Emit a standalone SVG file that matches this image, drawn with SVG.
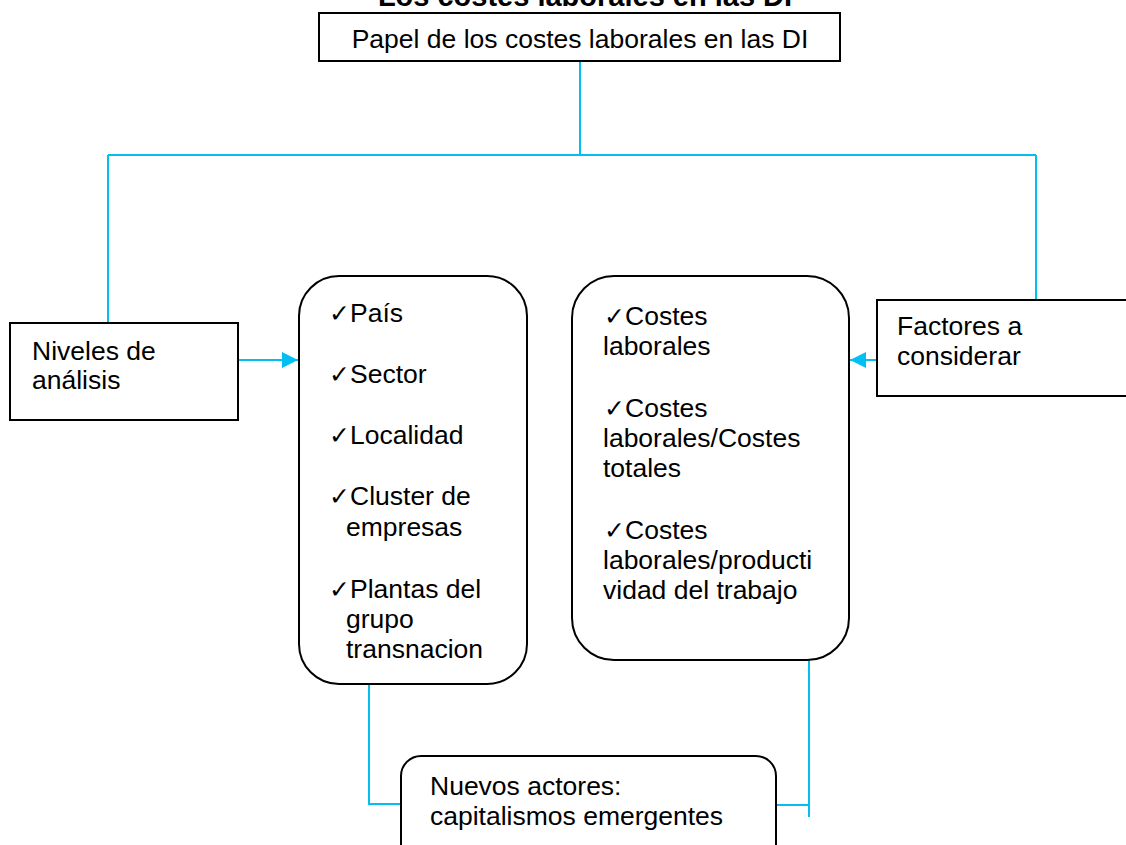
<svg xmlns="http://www.w3.org/2000/svg" width="1126" height="845" viewBox="0 0 1126 845">
<style>
.t{font-family:"Liberation Sans",Arial,"DejaVu Sans",sans-serif;font-size:26.5px;fill:#000}
.ck{font-family:"DejaVu Sans",sans-serif;font-size:25px}
.title{font-family:"Liberation Sans",Arial,sans-serif;font-size:29px;font-weight:bold;fill:#000}
.box{fill:#fff;stroke:#000;stroke-width:2}
.c{fill:none;stroke:#00C0F2;stroke-width:2}
</style>
<defs>
<marker id="ah" viewBox="0 0 10 10" refX="10" refY="5" markerWidth="8" markerHeight="8" orient="auto" markerUnits="strokeWidth">
<path d="M0,0 L10,5 L0,10 z" fill="#00C0F2"/>
</marker>
</defs>
<rect width="1126" height="845" fill="#fff"/>
<g id="connectors">
<path class="c" d="M580,61 V155 M108,155 H1036 M108,155 V323 M1036,155 V300"/>
<path class="c" d="M238,360 H298" marker-end="url(#ah)"/>
<path class="c" d="M877,360 H850" marker-end="url(#ah)"/>
<path class="c" d="M369,684 V804 H401"/>
<path class="c" d="M809,660 V817 M776,805 H809"/>
</g>
<g id="title">
<text class="title" x="585" y="6" text-anchor="middle">Los costes laborales en las DI</text>
</g>
<g id="papel">
<rect class="box" x="319" y="13" width="521" height="48"/>
<text class="t" x="580" y="48" text-anchor="middle">Papel de los costes laborales en las DI</text>
</g>
<g id="niveles">
<rect class="box" x="10" y="323" width="228" height="97"/>
<text class="t" x="32" y="360">Niveles de</text>
<text class="t" x="32" y="389">análisis</text>
</g>
<g id="lista-niveles">
<rect class="box" x="299" y="276" width="228" height="408" rx="40" ry="40"/>
<text class="t" y="322"><tspan class="ck" x="329">✓</tspan><tspan x="350">País</tspan></text>
<text class="t" y="383"><tspan class="ck" x="329">✓</tspan><tspan x="350">Sector</tspan></text>
<text class="t" y="444"><tspan class="ck" x="329">✓</tspan><tspan x="350">Localidad</tspan></text>
<text class="t" y="505"><tspan class="ck" x="329">✓</tspan><tspan x="350">Cluster de</tspan></text>
<text class="t" x="346" y="536">empresas</text>
<text class="t" y="598"><tspan class="ck" x="329">✓</tspan><tspan x="350">Plantas del</tspan></text>
<text class="t" x="346" y="628">grupo</text>
<text class="t" x="346" y="658">transnacion</text>
</g>
<g id="lista-factores">
<rect class="box" x="572" y="276" width="277" height="384" rx="42" ry="42"/>
<text class="t" y="325"><tspan class="ck" x="604">✓</tspan><tspan x="625">Costes</tspan></text>
<text class="t" x="603" y="355">laborales</text>
<text class="t" y="417"><tspan class="ck" x="604">✓</tspan><tspan x="625">Costes</tspan></text>
<text class="t" x="603" y="447">laborales/Costes</text>
<text class="t" x="603" y="477">totales</text>
<text class="t" y="539"><tspan class="ck" x="604">✓</tspan><tspan x="625">Costes</tspan></text>
<text class="t" x="603" y="569">laborales/producti</text>
<text class="t" x="603" y="599">vidad del trabajo</text>
</g>
<g id="factores">
<rect class="box" x="877" y="300" width="260" height="96"/>
<text class="t" x="897" y="335">Factores a</text>
<text class="t" x="897" y="365">considerar</text>
</g>
<g id="nuevos">
<rect class="box" x="401" y="756" width="375" height="110" rx="20" ry="20"/>
<text class="t" x="430" y="795">Nuevos actores:</text>
<text class="t" x="430" y="825">capitalismos emergentes</text>
</g>
</svg>
